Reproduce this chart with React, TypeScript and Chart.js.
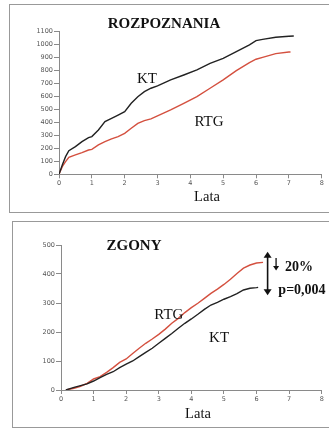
import React, { useEffect, useRef } from "react";
import { Chart, registerables } from "chart.js";
Chart.register(...registerables);

// ---- Data: ROZPOZNANIA (top) ----
const topKTYears = [0, 0.1, 0.2, 0.3, 0.5, 0.7, 0.9, 1.0, 1.2, 1.4, 1.6, 1.8, 2.0, 2.2, 2.4, 2.6, 2.8, 3.0, 3.4, 3.8, 4.2, 4.6, 5.0, 5.4, 5.8, 6.0, 6.2, 6.6, 7.0, 7.15];
const topKTValues = [0, 72, 136, 182, 213, 251, 282, 290, 341, 405, 430, 456, 482, 546, 597, 636, 662, 680, 726, 764, 803, 854, 892, 944, 995, 1028, 1038, 1054, 1062, 1064];
const topRTGYears = [0, 0.1, 0.2, 0.3, 0.5, 0.7, 0.9, 1.0, 1.2, 1.4, 1.6, 1.8, 2.0, 2.2, 2.4, 2.6, 2.8, 3.0, 3.4, 3.8, 4.2, 4.6, 5.0, 5.4, 5.8, 6.0, 6.2, 6.6, 7.0, 7.05];
const topRTGValues = [0, 59, 97, 131, 149, 167, 187, 192, 226, 251, 272, 290, 315, 354, 392, 413, 426, 449, 495, 546, 597, 662, 726, 797, 859, 885, 900, 928, 941, 941];

// ---- Data: ZGONY (bottom) ----
const botKTYears = [0.15, 0.4, 0.6, 0.8, 1.0, 1.2, 1.4, 1.6, 1.8, 2.0, 2.2, 2.4, 2.6, 2.8, 3.0, 3.2, 3.4, 3.6, 3.8, 4.0, 4.2, 4.4, 4.6, 4.8, 5.0, 5.2, 5.4, 5.6, 5.8, 6.0, 6.05];
const botKTValues = [0, 9, 15, 21, 31, 43, 54, 63, 77, 89, 100, 115, 130, 144, 161, 178, 195, 213, 230, 245, 261, 278, 293, 302, 313, 322, 332, 345, 351, 353, 354];
const botRTGYears = [0.15, 0.4, 0.6, 0.8, 1.0, 1.2, 1.4, 1.6, 1.8, 2.0, 2.2, 2.4, 2.6, 2.8, 3.0, 3.2, 3.4, 3.6, 3.8, 4.0, 4.2, 4.4, 4.6, 4.8, 5.0, 5.2, 5.4, 5.6, 5.8, 6.0, 6.2];
const botRTGValues = [0, 6, 13, 23, 38, 46, 61, 77, 95, 107, 126, 144, 161, 176, 192, 210, 230, 247, 267, 284, 299, 316, 333, 348, 364, 382, 402, 420, 431, 438, 440];

const xTicks = [0, 1, 2, 3, 4, 5, 6, 7, 8];
const topYMax = 1100;
const botYMax = 500;

const BLACK = "#222222";
const RED = "#d4503f";
const AXIS = "#8a8a8a";
const TICKTXT = "#555555";

type Label = { text: string; x?: number; y?: number; px?: number; py?: number; font: string; align?: CanvasTextAlign };
type Arrow = { x: number; y1: number; y2: number; both: boolean };

function makeTextPlugin(labels: Label[], arrows: Arrow[]) {
  return {
    id: "texts",
    afterDraw(chart: any) {
      const ctx = chart.ctx;
      const xs = chart.scales.x;
      const ys = chart.scales.y;
      ctx.save();
      ctx.fillStyle = "#111";
      ctx.textBaseline = "middle";
      for (const l of labels) {
        ctx.font = l.font;
        ctx.textAlign = l.align || "center";
        const px = l.px !== undefined ? l.px : xs.getPixelForValue(l.x);
        const py = l.py !== undefined ? l.py : ys.getPixelForValue(l.y);
        ctx.fillText(l.text, px, py);
      }
      ctx.strokeStyle = "#111";
      for (const a of arrows) {
        const px = xs.getPixelForValue(a.x);
        const p1 = ys.getPixelForValue(a.y1);
        const p2 = ys.getPixelForValue(a.y2);
        const lw = a.both ? 1.6 : 1.3;
        const hw = a.both ? 4 : 3;
        const hl = a.both ? 6 : 4.5;
        ctx.lineWidth = lw;
        ctx.beginPath();
        ctx.moveTo(px, p1 + (a.both ? hl - 1 : 0));
        ctx.lineTo(px, p2 - hl + 1);
        ctx.stroke();
        ctx.fillStyle = "#111";
        ctx.beginPath();
        ctx.moveTo(px, p2);
        ctx.lineTo(px - hw, p2 - hl);
        ctx.lineTo(px + hw, p2 - hl);
        ctx.closePath();
        ctx.fill();
        if (a.both) {
          ctx.beginPath();
          ctx.moveTo(px, p1);
          ctx.lineTo(px - hw, p1 + hl);
          ctx.lineTo(px + hw, p1 + hl);
          ctx.closePath();
          ctx.fill();
        }
      }
      ctx.restore();
    },
  };
}

function buildConfig(
  ktX: number[], ktY: number[], rtgX: number[], rtgY: number[],
  yMax: number, yAxisWidth: number, xAxisHeight: number, padTop: number, padRight: number,
  plugin: any
): any {
  return {
    type: "line",
    data: {
      datasets: [
        { label: "KT", data: ktX.map((x, i) => ({ x, y: ktY[i] })), borderColor: BLACK, borderWidth: 1.4, pointRadius: 0, tension: 0, fill: false },
        { label: "RTG", data: rtgX.map((x, i) => ({ x, y: rtgY[i] })), borderColor: RED, borderWidth: 1.4, pointRadius: 0, tension: 0, fill: false },
      ],
    },
    options: {
      responsive: false,
      animation: false,
      devicePixelRatio: 1,
      layout: { padding: { top: padTop, right: padRight, left: 0, bottom: 0 } },
      plugins: { legend: { display: false }, tooltip: { enabled: false }, title: { display: false } },
      scales: {
        x: {
          type: "linear",
          min: 0,
          max: 8,
          afterBuildTicks: (s: any) => { s.ticks = xTicks.map((v) => ({ value: v })); },
          afterFit: (s: any) => { s.height = xAxisHeight; },
          grid: { drawOnChartArea: false, drawTicks: true, tickLength: 4, color: AXIS },
          border: { color: AXIS, width: 1 },
          ticks: { color: TICKTXT, font: { family: "DejaVu Sans", size: 6.5 }, padding: 1, maxRotation: 0, callback: (v: any) => String(v) },
        },
        y: {
          type: "linear",
          min: 0,
          max: yMax,
          afterFit: (s: any) => { s.width = yAxisWidth; },
          grid: { drawOnChartArea: false, drawTicks: true, tickLength: 5, color: AXIS },
          border: { color: AXIS, width: 1 },
          ticks: { stepSize: 100, color: TICKTXT, font: { family: "DejaVu Sans", size: 6.5 }, padding: 1, callback: (v: any) => String(v) },
        },
      },
    },
    plugins: [plugin],
  };
}

const SERIF = "'Liberation Serif', 'DejaVu Serif', serif";

function ChartCanvas({ config, width, height, top }: { config: () => any; width: number; height: number; top: number }) {
  const ref = useRef<HTMLCanvasElement | null>(null);
  useEffect(() => {
    if (!ref.current) return;
    const chart = new Chart(ref.current, config());
    return () => chart.destroy();
  }, []);
  return (
    <canvas
      ref={ref}
      width={width}
      height={height}
      style={{ position: "absolute", left: 0, top, width, height }}
    />
  );
}

export default function App() {
  const topConfig = () =>
    buildConfig(
      topKTYears, topKTValues, topRTGYears, topRTGValues,
      topYMax, 59, 40.7, 31.3, 7.3,
      makeTextPlugin(
        [
          { text: "ROZPOZNANIA", px: 164, py: 24, font: `bold 15px ${SERIF}` },
          { text: "KT", x: 2.68, y: 733, font: `15px ${SERIF}` },
          { text: "RTG", x: 4.57, y: 402, font: `15px ${SERIF}` },
          { text: "Lata", px: 207, py: 197, font: `14.5px ${SERIF}` },
        ],
        []
      )
    );
  const botConfig = () =>
    buildConfig(
      botKTYears, botKTValues, botRTGYears, botRTGValues,
      botYMax, 61, 39, 30, 7.3,
      makeTextPlugin(
        [
          { text: "ZGONY", px: 134, py: 30.7, font: `bold 15px ${SERIF}` },
          { text: "RTG", x: 3.31, y: 259, font: `15px ${SERIF}` },
          { text: "KT", x: 4.85, y: 180, font: `15px ${SERIF}` },
          { text: "Lata", px: 198, py: 199, font: `14.5px ${SERIF}` },
          { text: "20%", x: 6.87, y: 424, font: `bold 14px ${SERIF}`, align: "left" },
          { text: "p=0,004", x: 6.67, y: 345, font: `bold 14px ${SERIF}`, align: "left" },
        ],
        [
          { x: 6.34, y1: 477, y2: 327, both: true },
          { x: 6.6, y1: 455, y2: 412, both: false },
        ]
      )
    );
  return (
    <div style={{ position: "absolute", left: 0, top: 0, width: 329, height: 429, overflow: "hidden", background: "#fff" }}>
      <div style={{ position: "absolute", left: 9, top: 4, width: 340, height: 207, borderLeft: "1px solid #999", borderTop: "1px solid #999", borderBottom: "1px solid #999" }} />
      <div style={{ position: "absolute", left: 12, top: 221, width: 340, height: 205, borderLeft: "1px solid #999", borderTop: "1px solid #999", borderBottom: "1px solid #999" }} />
      <ChartCanvas config={topConfig} width={329} height={215} top={0} />
      <ChartCanvas config={botConfig} width={329} height={214} top={215} />
    </div>
  );
}
